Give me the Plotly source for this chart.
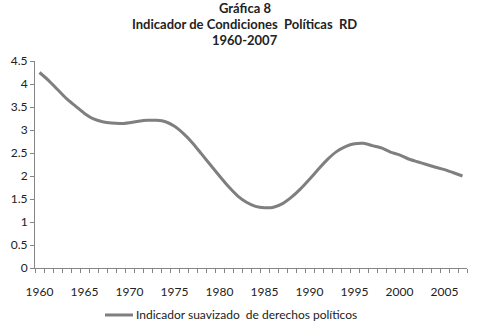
import plotly.graph_objects as go

years = list(range(1960, 2008))
indicador = [
    4.25, 4.08, 3.88, 3.68, 3.52, 3.36, 3.24, 3.18, 3.15, 3.14,
    3.16, 3.19, 3.21, 3.21, 3.18, 3.08, 2.92, 2.72, 2.48, 2.24,
    2.00, 1.77, 1.57, 1.43, 1.34, 1.31, 1.32, 1.40, 1.54, 1.72,
    1.93, 2.15, 2.36, 2.53, 2.64, 2.70, 2.71, 2.66, 2.61, 2.52,
    2.46, 2.37, 2.31, 2.25, 2.19, 2.14, 2.07, 2.00,
]
x_labels = [1960, 1965, 1970, 1975, 1980, 1985, 1990, 1995, 2000, 2005]
y_ticks = [0, 0.5, 1, 1.5, 2, 2.5, 3, 3.5, 4, 4.5]
y_labels = ["0", "0.5", "1", "1.5", "2", "2.5", "3", "3.5", "4", "4.5"]
title_lines = ["Gráfica 8", "Indicador de Condiciones&nbsp; Políticas&nbsp; RD", "1960-2007"]
series_name = "Indicador suavizado&nbsp; de derechos políticos"

FONT = "Lato"
AXIS_COLOR = "#868686"
LINE_COLOR = "#7f7f7f"
TEXT_COLOR = "#222222"

fig = go.Figure()
fig.add_trace(go.Scatter(
    x=years, y=indicador, mode="lines", name="Indicador suavizado de derechos políticos",
    line=dict(color=LINE_COLOR, width=3, shape="spline", smoothing=0.6),
    showlegend=False,
))

fig.update_layout(
    width=489, height=332,
    margin=dict(l=35, r=22, t=61, b=64, autoexpand=False),
    paper_bgcolor="white", plot_bgcolor="white",
    font=dict(family=FONT, size=12, color=TEXT_COLOR),
    showlegend=False,
    xaxis=dict(
        range=[1959.5, 2007.5], automargin=False,
        tickmode="array", tickvals=x_labels, ticktext=[str(v) for v in x_labels],
        ticks="", ticklabelstandoff=13, showgrid=False, zeroline=False,
        showline=True, linecolor=AXIS_COLOR, linewidth=1,
        tickfont=dict(family=FONT, size=12, color=TEXT_COLOR),
        minor=dict(tick0=1959.5, dtick=1, ticks="outside", ticklen=4,
                   tickcolor=AXIS_COLOR, showgrid=False),
        fixedrange=True,
    ),
    yaxis=dict(
        range=[0, 4.5], automargin=False,
        tickmode="array", tickvals=y_ticks, ticktext=y_labels,
        ticks="outside", ticklen=4, tickcolor=AXIS_COLOR,
        showgrid=False, zeroline=False,
        showline=True, linecolor=AXIS_COLOR, linewidth=1,
        tickfont=dict(family=FONT, size=12, color=TEXT_COLOR),
        fixedrange=True,
    ),
)

# three-line bold title
for i, line in enumerate(title_lines):
    fig.add_annotation(
        text="<b>" + line + "</b>", xref="paper", yref="paper",
        x=0.485, y=1.256 - i * 0.0773, xanchor="center", yanchor="middle",
        showarrow=False, font=dict(family=FONT, size=13, color=TEXT_COLOR),
    )

# legend: short line sample followed by the series name
leg_y = -0.227
fig.add_shape(
    type="line", xref="paper", yref="paper",
    x0=(105 - 35) / 432, x1=(133 - 35) / 432, y0=leg_y, y1=leg_y,
    line=dict(color=LINE_COLOR, width=3),
)
fig.add_annotation(
    text=series_name, xref="paper", yref="paper",
    x=(134 - 35) / 432, y=leg_y, xanchor="left", yanchor="middle",
    showarrow=False, font=dict(family=FONT, size=12, color=TEXT_COLOR),
)

fig.write_html("out.html", config={"displayModeBar": False})
